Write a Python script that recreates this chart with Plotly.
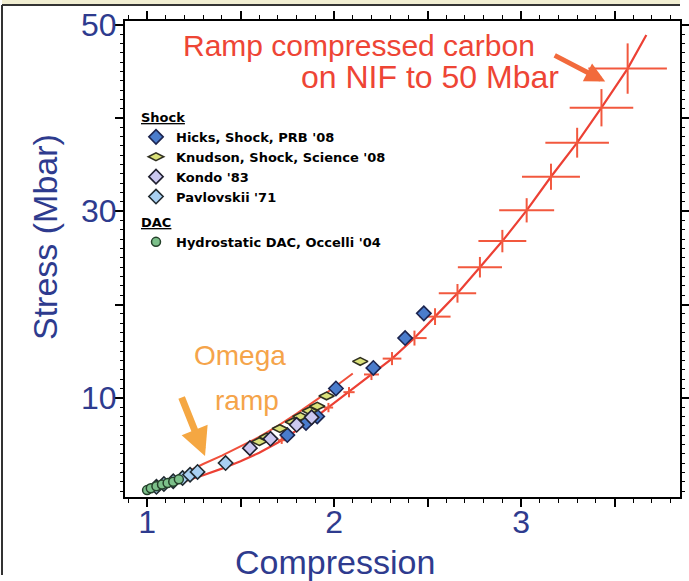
import plotly.graph_objects as go

# ---------------- data ----------------
nif_line_x = [1.0, 1.1, 1.2, 1.3, 1.4, 1.5, 1.6, 1.7, 1.8, 1.9, 2.0, 2.1, 2.2, 2.31, 2.43, 2.54,
              2.66, 2.78, 2.90, 3.03, 3.16, 3.30, 3.43, 3.57, 3.67]
nif_line_y = [0.0, 0.5, 1.05, 1.7, 2.4, 3.2, 4.1, 5.2, 6.5, 7.9, 9.4, 10.9, 12.5, 14.2, 16.4, 18.7,
              21.2, 24.0, 26.8, 30.1, 33.7, 37.35, 41.1, 45.3, 48.9]

nif_pts_x = [1.72, 1.85, 1.97, 2.08, 2.20, 2.31, 2.43, 2.54, 2.66, 2.78, 2.90, 3.03, 3.16, 3.30, 3.43, 3.57]
nif_pts_y = [5.45, 7.2, 8.95, 10.6, 12.5, 14.2, 16.4, 18.7, 21.2, 24.0, 26.8, 30.1, 33.7, 37.35, 41.1, 45.3]
nif_err_x = [0.02, 0.02, 0.025, 0.03, 0.04, 0.05, 0.065, 0.083, 0.10, 0.118, 0.128, 0.147, 0.155, 0.17, 0.17, 0.21]
nif_err_y = [0.4, 0.45, 0.5, 0.55, 0.6, 0.7, 0.8, 0.9, 1.0, 1.1, 1.2, 1.3, 1.4, 1.6, 2.0, 2.7]

omega_x = [1.0, 1.1, 1.2, 1.3, 1.4, 1.5, 1.6, 1.7, 1.8, 1.9, 2.0, 2.1]
omega_y = [0.0, 0.9, 1.9, 2.9, 3.8, 4.8, 5.8, 7.0, 8.3, 9.7, 11.1, 12.6]

hicks_x = [1.75, 1.85, 1.91, 2.01, 2.21, 2.38, 2.48]
hicks_y = [6.0, 7.3, 8.0, 11.0, 13.2, 16.4, 19.05]

knudson_x = [1.60, 1.64, 1.71, 1.78, 1.82, 1.87, 1.91, 1.96, 2.14]
knudson_y = [5.3, 5.8, 6.7, 7.4, 8.0, 8.6, 9.1, 10.2, 13.9]

kondo_x = [1.55, 1.66, 1.80, 1.88]
kondo_y = [4.6, 5.6, 7.1, 7.9]

pavlovskii_x = [1.05, 1.09, 1.14, 1.19, 1.23, 1.27, 1.42]
pavlovskii_y = [0.45, 0.75, 1.05, 1.4, 1.75, 2.05, 3.0]

dac_x = [1.0, 1.02, 1.05, 1.08, 1.11, 1.14, 1.17]
dac_y = [0.1, 0.3, 0.5, 0.7, 0.85, 1.0, 1.25]

x_tickvals = [1, 1.5, 2, 2.5, 3, 3.5]
x_ticktext = ["1", "", "2", "", "3", ""]
y_tickvals = [10, 20, 30, 40, 50]
y_ticktext = ["10", "", "30", "", "50"]

# ---------------- styling ----------------
W, H = 689, 581
ML, MR, MT, MB = 125, 9, 21, 84
NAVY = "#2e3b8e"
RED = "#ee4535"
ORANGE = "#f5a44a"
FONT = "Arial, Liberation Sans, sans-serif"
LFONT = "DejaVu Sans, Arial, sans-serif"


def px2paper(px, py):
    return (px - ML) / (W - ML - MR), (H - MB - py) / (H - MT - MB)


fig = go.Figure()

fig.add_trace(go.Scatter(x=omega_x, y=omega_y, mode="lines", showlegend=False,
                         line=dict(color="#f0503c", width=2)))
fig.add_trace(go.Scatter(x=nif_line_x, y=nif_line_y, mode="lines", showlegend=False,
                         line=dict(color="#ec4034", width=2.2)))
fig.add_trace(go.Scatter(
    x=nif_pts_x, y=nif_pts_y, mode="markers", showlegend=False,
    marker=dict(size=2, color="rgba(0,0,0,0)"),
    error_x=dict(type="data", array=nif_err_x, color="#f2583e", thickness=2, width=0),
    error_y=dict(type="data", array=nif_err_y, color="#f2583e", thickness=2, width=0)))

title_font = dict(size=13, family=LFONT, color="black", weight="bold")
fig.add_trace(go.Scatter(x=hicks_x, y=hicks_y, mode="markers", name="Hicks, Shock, PRB '08",
                         legend="legend", legendgroup="shock",
                         legendgrouptitle=dict(text="<u>Shock</u>", font=title_font),
                         marker=dict(symbol="diamond", size=11, color="#4a7ccc",
                                     line=dict(color="#1c2550", width=1.6))))
fig.add_trace(go.Scatter(x=knudson_x, y=knudson_y, mode="markers", name="Knudson, Shock, Science '08",
                         legend="legend", legendgroup="shock",
                         marker=dict(symbol="diamond-wide", size=11, color="#dbe27a",
                                     line=dict(color="#303020", width=1.6))))
fig.add_trace(go.Scatter(x=kondo_x, y=kondo_y, mode="markers", name="Kondo '83",
                         legend="legend", legendgroup="shock",
                         marker=dict(symbol="diamond", size=11, color="#cbc8f0",
                                     line=dict(color="#202030", width=1.6))))
fig.add_trace(go.Scatter(x=pavlovskii_x, y=pavlovskii_y, mode="markers", name="Pavlovskii '71",
                         legend="legend", legendgroup="shock",
                         marker=dict(symbol="diamond", size=11, color="#a9d0f2",
                                     line=dict(color="#202a30", width=1.6))))
fig.add_trace(go.Scatter(x=dac_x, y=dac_y, mode="markers", name="Hydrostatic DAC, Occelli '04",
                         legend="legend2", legendgroup="dac",
                         legendgrouptitle=dict(text="<u>DAC</u>", font=title_font),
                         marker=dict(symbol="circle", size=9, color="#7cc08a",
                                     line=dict(color="#24402a", width=1.5))))

axis_common = dict(showline=True, linecolor="black", linewidth=2, mirror="allticks",
                   ticks="outside", ticklen=8, tickwidth=1.5, tickcolor="black",
                   showgrid=False, zeroline=False, automargin=False,
                   tickfont=dict(family=FONT, size=32, color=NAVY))

fig.update_xaxes(range=[0.882, 3.85], tickvals=x_tickvals, ticktext=x_ticktext,
                 ticklabelstandoff=-12,
                 minor=dict(tick0=1, dtick=0.1, ticklen=4, tickwidth=1, tickcolor="black", ticks="outside"),
                 **axis_common)
fig.update_yaxes(range=[-0.64, 50.4], tickvals=y_tickvals, ticktext=y_ticktext,
                 ticklabelstandoff=-8,
                 minor=dict(tick0=0, dtick=1, ticklen=3, tickwidth=1, tickcolor="black", ticks="outside"),
                 **axis_common)

ann = []
xt, yt = px2paper(335, 562)
ann.append(dict(text="Compression", x=xt, y=yt, xref="paper", yref="paper",
                xanchor="center", yanchor="middle", showarrow=False,
                font=dict(family=FONT, size=34, color=NAVY)))
xs, ys = px2paper(45, 237)
ann.append(dict(text="Stress (Mbar)", x=xs, y=ys, xref="paper", yref="paper", textangle=-90,
                xanchor="center", yanchor="middle", showarrow=False,
                font=dict(family=FONT, size=34, color=NAVY)))

x1, y1 = px2paper(537, 45)
ann.append(dict(text="Ramp compressed carbon", x=x1, y=y1, xref="paper", yref="paper",
                xanchor="right", yanchor="middle", showarrow=False,
                font=dict(family=FONT, size=30, color=RED)))
x2, y2 = px2paper(561, 77)
ann.append(dict(text="on NIF to 50 Mbar", x=x2, y=y2, xref="paper", yref="paper",
                xanchor="right", yanchor="middle", showarrow=False,
                font=dict(family=FONT, size=32, color=RED)))
ann.append(dict(x=3.45, y=43.9, xref="x", yref="y", ax=-52, ay=-27, text="",
                showarrow=True, arrowhead=2, arrowsize=0.8, arrowwidth=5, arrowcolor="#f26a3c"))
xo, yo = px2paper(240, 355)
ann.append(dict(text="Omega", x=xo, y=yo, xref="paper", yref="paper", showarrow=False,
                xanchor="center", yanchor="middle",
                font=dict(family=FONT, size=28, color=ORANGE)))
xr, yr = px2paper(247, 400)
ann.append(dict(text="ramp", x=xr, y=yr, xref="paper", yref="paper", showarrow=False,
                xanchor="center", yanchor="middle",
                font=dict(family=FONT, size=28, color=ORANGE)))
ann.append(dict(x=1.31, y=3.75, xref="x", yref="y", ax=-24, ay=-60, text="",
                showarrow=True, arrowhead=2, arrowsize=0.8, arrowwidth=7, arrowcolor="#f5a742"))

# outer frame of the slide image
fl, _ = px2paper(2, 0)
_, ft = px2paper(0, 5)
_, ftop = px2paper(0, 0)
_, fb = px2paper(0, 575)
shapes = [
    dict(type="rect", xref="paper", yref="paper", x0=fl, x1=1.0, y0=ft, y1=ftop,
         fillcolor="#f1eed2", line=dict(width=0), layer="below"),
    dict(type="line", xref="paper", yref="paper", x0=fl, x1=1.0, y0=ft, y1=ft,
         line=dict(color="#333333", width=2)),
    dict(type="line", xref="paper", yref="paper", x0=fl, x1=fl, y0=fb, y1=ft,
         line=dict(color="#333333", width=2)),
]

legend_font = dict(family=LFONT, size=13, color="black", weight="bold")
lx, ly = px2paper(136, 102)
lx2, ly2 = px2paper(136, 207)
fig.update_layout(
    width=W, height=H, margin=dict(l=ML, r=MR, t=MT, b=MB, autoexpand=False),
    paper_bgcolor="white", plot_bgcolor="white",
    font=dict(family=FONT),
    showlegend=True,
    legend=dict(x=lx, y=ly, xanchor="left", yanchor="top", bgcolor="rgba(0,0,0,0)",
                traceorder="grouped", tracegroupgap=0, itemsizing="trace", font=legend_font),
    legend2=dict(x=lx2, y=ly2, xanchor="left", yanchor="top", bgcolor="rgba(0,0,0,0)",
                 traceorder="grouped", itemsizing="trace", font=legend_font),
    annotations=ann, shapes=shapes,
)

fig.write_html("out.html", config={"displayModeBar": False},
               post_script="document.body.style.margin='0';")
